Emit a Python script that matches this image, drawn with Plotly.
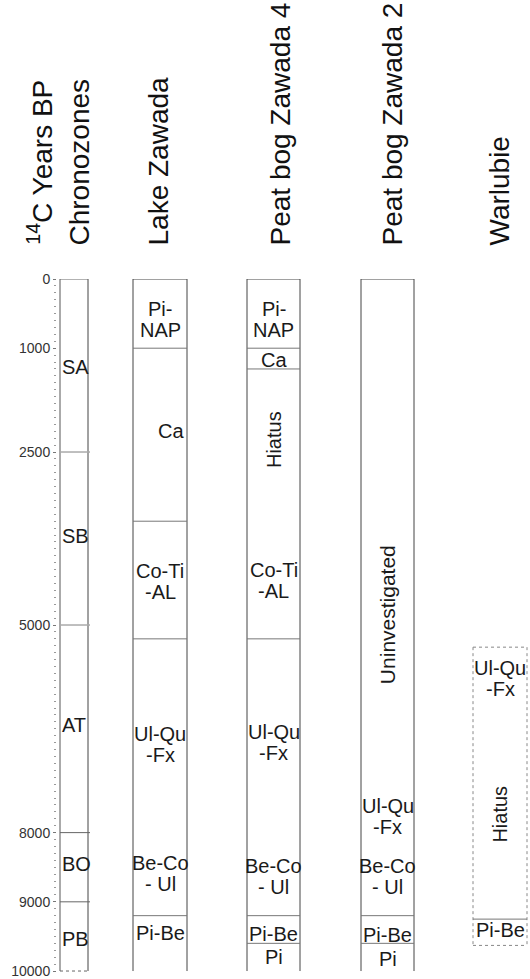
import plotly.graph_objects as go

# ---------------- data (ages in 14C years BP) ----------------
AGE_TICKS = [0, 1000, 2500, 5000, 8000, 9000, 10000]

CHRONO_BOUNDS = [0, 2500, 5000, 8000, 9000, 10000]
CHRONO_NAMES = ["SA", "SB", "AT", "BO", "PB"]
CHRONO_LABEL_AGE = [1270, 3710, 6450, 8460, 9540]

LAKE_RANGE = [0, 10000]
LAKE_LINES = [1000, 3500, 5200, 9200]
LAKE_LABELS = ["Pi-\nNAP", "Ca", "Co-Ti\n-AL", "Ul-Qu\n-Fx", "Be-Co\n- Ul", "Pi-Be"]
LAKE_LABEL_AGE = [590, 2200, 4375, 6720, 8590, 9450]

PEAT4_RANGE = [0, 10000]
PEAT4_LINES = [1000, 1300, 5200, 9200, 9600]
PEAT4_LABELS = ["Pi-\nNAP", "Ca", "Hiatus", "Co-Ti\n-AL", "Ul-Qu\n-Fx", "Be-Co\n- Ul", "Pi-Be", "Pi"]
PEAT4_LABEL_AGE = [590, 1165, 2320, 4350, 6700, 8630, 9470, 9800]

PEAT2_RANGE = [0, 10000]
PEAT2_LINES = [9200, 9600]
PEAT2_LABELS = ["Uninvestigated", "Ul-Qu\n-Fx", "Be-Co\n- Ul", "Pi-Be", "Pi"]
PEAT2_LABEL_AGE = [4850, 7760, 8630, 9480, 9830]

WARL_RANGE = [5320, 9630]
WARL_LINES = [9250]
WARL_LABELS = ["Ul-Qu\n-Fx", "Hiatus", "Pi-Be"]
WARL_LABEL_AGE = [5780, 7740, 9410]

TITLES = ["<sup>14</sup>C Years BP<br>Chronozones", "Lake Zawada",
          "Peat bog Zawada 4", "Peat bog Zawada 2", "Warlubie"]

ROTATED = {"Hiatus": 20, "Uninvestigated": 21}

# ---------------- layout / style ----------------
W, H = 530, 979
FONT = "Liberation Sans, Arial, sans-serif"
DARK = "#444444"
MID = "#666666"
LIGHT = "#aaaaaa"
TOP = 279                # pixel of age 0
PX_PER_YEAR = 0.0695
Y_MAX = (H - TOP) / PX_PER_YEAR   # age at the bottom edge of the page

COLS = {
    "chrono": (60, 88),
    "lake": (133, 187),
    "peat4": (247, 300),
    "peat2": (361, 414),
    "warl": (473, 527),
}
TITLE_X = [58, 158, 280, 392, 499]

fig = go.Figure()
fig.add_trace(go.Scatter(x=[0], y=[0], mode="markers", marker=dict(opacity=0),
                         hoverinfo="skip", showlegend=False))

shapes = []
annotations = []


def hline(x0, x1, y, color=MID, width=1, dash="solid"):
    shapes.append(dict(type="line", xref="x", yref="y", x0=x0, x1=x1, y0=y, y1=y,
                       line=dict(color=color, width=width, dash=dash)))


def vline(x, y0, y1, color=DARK, width=1, dash="solid"):
    shapes.append(dict(type="line", xref="x", yref="y", x0=x, x1=x, y0=y0, y1=y1,
                       line=dict(color=color, width=width, dash=dash)))


def label(text, x, age, xanchor="center", size=20):
    if text in ROTATED:
        annotations.append(dict(xref="x", yref="y", x=x, y=age, text=text, showarrow=False,
                                textangle=-90, xanchor="center", yanchor="middle",
                                font=dict(family=FONT, size=ROTATED[text], color="#1a1a1a")))
        return
    lines = text.split("\n")
    n = len(lines)
    step = 21
    for i, ln in enumerate(lines):
        annotations.append(dict(xref="x", yref="y", x=x, y=age, text=ln, showarrow=False,
                                xanchor=xanchor, yanchor="middle",
                                yshift=((n - 1) / 2 - i) * step,
                                font=dict(family=FONT, size=size, color="#1a1a1a")))


# chronozone column
cx0, cx1 = COLS["chrono"]
vline(cx0, CHRONO_BOUNDS[0], CHRONO_BOUNDS[-1], color=LIGHT, width=2)
vline(cx1, CHRONO_BOUNDS[0], CHRONO_BOUNDS[-1], color=DARK)
hline(cx0, cx1, CHRONO_BOUNDS[0], color=MID)
hline(cx0, cx1, CHRONO_BOUNDS[-1], color=MID, dash="dot")
for b in CHRONO_BOUNDS[1:-1]:
    hline(cx0, cx1 + 2, b, color=LIGHT if b < 6000 else MID, width=1.5 if b < 6000 else 1)
for name, age in zip(CHRONO_NAMES, CHRONO_LABEL_AGE):
    label(name, cx0, age, xanchor="left")


def column(key, rng, lines, labels, ages, dotted=False):
    x0, x1 = COLS[key]
    dash = "dot" if dotted else "solid"
    col = "#888888" if dotted else DARK
    vline(x0, rng[0], rng[1], color=col, dash=dash)
    vline(x1, rng[0], rng[1], color=col, dash=dash)
    hline(x0, x1, rng[0], color=col, dash=dash)
    if rng[1] < 10000:
        hline(x0, x1, rng[1], color=col, dash=dash)
    for b in lines:
        hline(x0, x1, b, color="#777777")
    xc = (x0 + x1) / 2
    for t, a in zip(labels, ages):
        if t == "Ca" and key == "lake":
            label(t, x1 - 1, a, xanchor="right")
        else:
            label(t, xc, a)


column("lake", LAKE_RANGE, LAKE_LINES, LAKE_LABELS, LAKE_LABEL_AGE)
column("peat4", PEAT4_RANGE, PEAT4_LINES, PEAT4_LABELS, PEAT4_LABEL_AGE)
column("peat2", PEAT2_RANGE, PEAT2_LINES, PEAT2_LABELS, PEAT2_LABEL_AGE)
column("warl", WARL_RANGE, WARL_LINES, WARL_LABELS, WARL_LABEL_AGE, dotted=True)

# column titles
for t, x in zip(TITLES, TITLE_X):
    annotations.append(dict(xref="x", yref="paper", x=x, y=1, yshift=31, text=t,
                            showarrow=False, textangle=-90, xanchor="center",
                            yanchor="bottom", align="center",
                            font=dict(family=FONT, size=28, color="#111111")))

fig.update_layout(
    width=W, height=H,
    margin=dict(l=0, r=0, t=TOP, b=0),
    paper_bgcolor="white", plot_bgcolor="white",
    showlegend=False,
    shapes=shapes, annotations=annotations,
    xaxis=dict(range=[0, W], visible=False, fixedrange=True),
    yaxis=dict(range=[Y_MAX, 0], anchor="free", position=56 / W,
               tickmode="array", tickvals=AGE_TICKS,
               ticktext=[str(v) for v in AGE_TICKS],
               ticks="outside", ticklen=3, tickcolor="#777777",
               ticklabeloverflow="allow",
               tickfont=dict(family=FONT, size=14, color="#333333"),
               showgrid=False, zeroline=False, showline=False, fixedrange=True,
               minor=dict(tickmode="linear", tick0=0, dtick=100, ticks="outside",
                          ticklen=2, tickcolor="#999999", showgrid=False)),
)

fig.write_html("out.html", config={"displayModeBar": False},
               post_script="document.body.style.margin='0';document.body.style.padding='0';")
